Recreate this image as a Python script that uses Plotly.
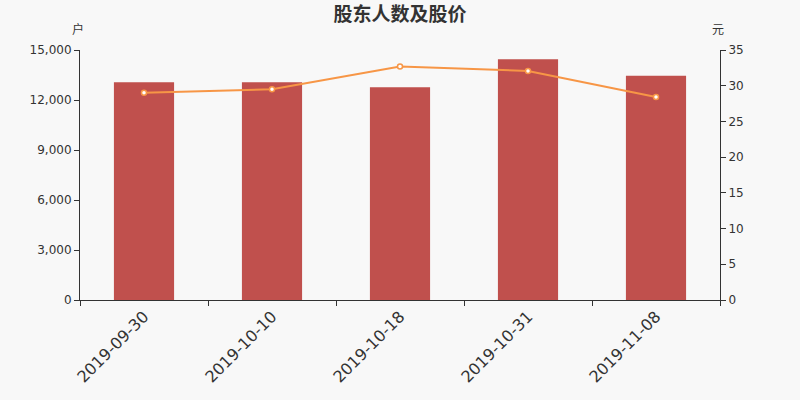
import plotly.graph_objects as go

dates = ["2019-09-30", "2019-10-10", "2019-10-18", "2019-10-31", "2019-11-08"]
holders = [13060, 13070, 12760, 14440, 13460]
prices = [29.03, 29.5, 32.7, 32.06, 28.42]

fig = go.Figure()
fig.add_trace(go.Bar(x=dates, y=holders, marker=dict(color="#c0504d", line=dict(width=0)),
                     width=0.47, name="股东人数", yaxis="y"))
fig.add_trace(go.Scatter(x=dates, y=prices, mode="lines+markers", yaxis="y2",
                         line=dict(color="#f79646", width=2),
                         marker=dict(size=5, color="#ffffff", line=dict(color="#f79646", width=1.5)),
                         name="股价"))

font_main = "DejaVu Sans, Noto Sans CJK SC, sans-serif"
fig.update_layout(
    width=800, height=400,
    paper_bgcolor="#f8f8f8", plot_bgcolor="#f8f8f8",
    margin=dict(l=80, r=80, t=50, b=100),
    showlegend=False,
    font=dict(family=font_main, color="#333333", size=12),
    title=dict(text="<b>股东人数及股价</b>", x=0.5, xanchor="center", y=0.965, yanchor="middle",
               font=dict(family="Noto Sans CJK SC, sans-serif", size=19, color="#333333")),
    xaxis=dict(type="category", tickson="boundaries", ticks="outside", ticklen=5,
               tickcolor="#333333", showline=True, linecolor="#333333", linewidth=1,
               tickangle=-45, tickfont=dict(size=16, color="#333333"), showgrid=False,
               zeroline=False, automargin=False),
    yaxis=dict(range=[0, 15000], tickvals=[0, 3000, 6000, 9000, 12000, 15000],
               tickformat=",", ticks="outside", ticklen=5, tickcolor="#333333",
               showline=True, linecolor="#333333", showgrid=False, zeroline=False,
               tickfont=dict(size=12, color="#333333"), automargin=False),
    yaxis2=dict(range=[0, 35], tickvals=[0, 5, 10, 15, 20, 25, 30, 35], overlaying="y",
                side="right", ticks="outside", ticklen=5, tickcolor="#333333",
                showline=True, linecolor="#333333", showgrid=False, zeroline=False,
                tickfont=dict(size=12, color="#333333"), automargin=False),
    bargap=0.53,
)
fig.add_annotation(text="户", xref="paper", yref="paper", x=-0.003, y=1.0, yshift=22,
                   xanchor="center", yanchor="middle",
                   showarrow=False, font=dict(family="Noto Sans CJK SC", size=12, color="#333333"))
fig.add_annotation(text="元", xref="paper", yref="paper", x=0.997, y=1.0, yshift=22,
                   xanchor="center", yanchor="middle",
                   showarrow=False, font=dict(family="Noto Sans CJK SC", size=12, color="#333333"))

fig.write_html("out.html", config={"displayModeBar": False},
               post_script="document.body.style.margin='0';")
